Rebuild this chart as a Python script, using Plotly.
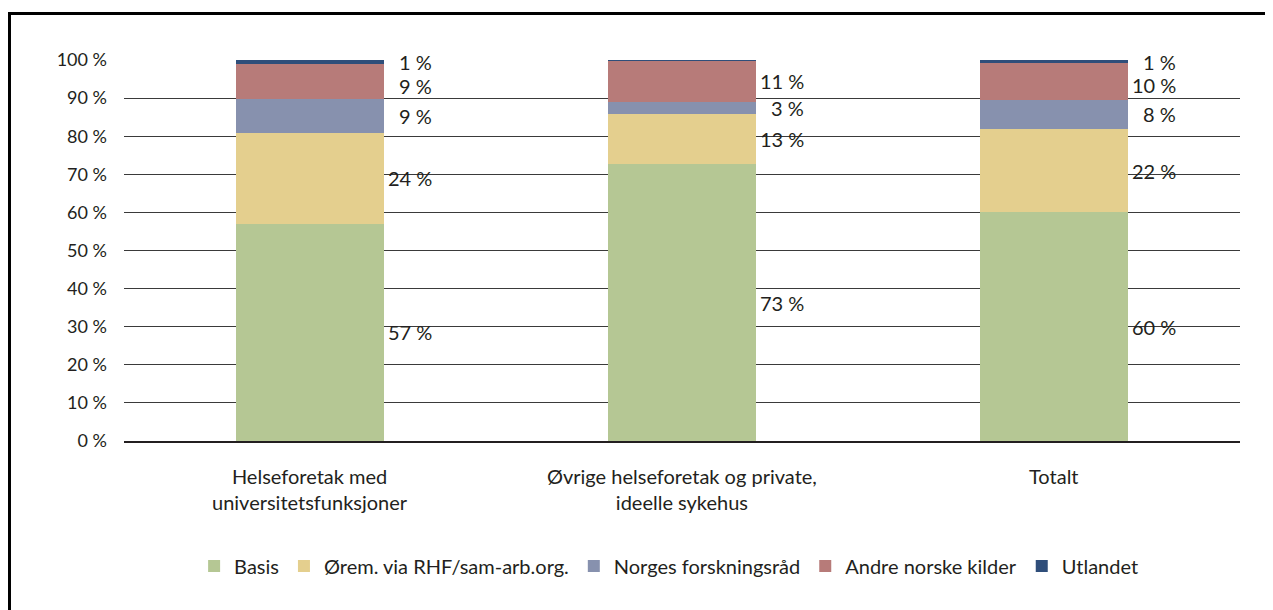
import plotly.graph_objects as go

categories = ["Helseforetak med<br>universitetsfunksjoner",
              "Øvrige helseforetak og private,<br>ideelle sykehus",
              "Totalt"]
series_names = ["Basis", "Ørem. via RHF/sam-arb.org.", "Norges forskningsråd",
                "Andre norske kilder", "Utlandet"]
basis = [57.0, 72.7, 60.0]
orem = [23.8, 13.0, 21.8]
nfr = [9.0, 3.2, 7.8]
andre = [9.2, 11.0, 9.6]
utlandet = [1.0, 0.1, 0.8]
y_tick_vals = [0, 10, 20, 30, 40, 50, 60, 70, 80, 90, 100]
y_tick_text = [f"{v} %" for v in y_tick_vals]

series = [basis, orem, nfr, andre, utlandet]
colors = ["#B5C794", "#E4CF8E", "#8791AE", "#B77B79", "#2F4E7A"]
FONT = "Lato"
TXT = "#231F20"
MIN_GAP = 6.2  # minimum vertical spacing between data labels, in axis units

fig = go.Figure()
for name, vals, col in zip(series_names, series, colors):
    fig.add_trace(go.Bar(x=categories, y=vals, name=name,
                         marker=dict(color=col, line=dict(width=0)), width=0.4))

annotations = []
# data labels to the right of each bar, at segment centers, pushed apart when crowded
for ci, cat in enumerate(categories):
    cum = 0.0
    labels = []
    for vals in series:
        v = vals[ci]
        mid = cum + v / 2
        cum += v
        if round(v) < 1:
            continue
        labels.append([mid, f"{round(v)} %"])
    labels.sort(key=lambda t: -t[0])
    prev = None
    for lab in labels:
        if prev is not None and prev - lab[0] < MIN_GAP:
            lab[0] = prev - MIN_GAP
        prev = lab[0]
        annotations.append(dict(x=cat, y=lab[0], xref="x", yref="y", text=lab[1],
                                showarrow=False, xanchor="right", yanchor="middle", xshift=124,
                                font=dict(family=FONT, size=20, color=TXT)))
# category labels (first line aligned for all categories)
for cat in categories:
    annotations.append(dict(x=cat, y=0, xref="x", yref="paper", text=cat,
                            showarrow=False, xanchor="center", yanchor="top",
                            yshift=-21, font=dict(family=FONT, size=20, color=TXT)))

fig.update_layout(
    barmode="stack",
    width=1273, height=610,
    margin=dict(l=116, r=41, t=52, b=177),
    paper_bgcolor="white", plot_bgcolor="white",
    font=dict(family=FONT, size=20, color=TXT),
    annotations=annotations,
    legend=dict(orientation="h", x=0.488, xanchor="center", y=-0.328, yanchor="middle",
                font=dict(family=FONT, size=20, color=TXT),
                traceorder="normal", itemclick=False),
    showlegend=True,
    shapes=[
        dict(type="line", xref="paper", yref="paper", x0=-0.1026, x1=1.1, y0=1.122, y1=1.122,
             line=dict(color="black", width=3)),
        dict(type="line", xref="paper", yref="paper", x0=-0.1026, x1=-0.1026, y0=1.126, y1=-0.5,
             line=dict(color="black", width=3)),
    ],
)
fig.update_yaxes(range=[0, 100], tickvals=y_tick_vals, ticktext=y_tick_text,
                 showgrid=True, gridcolor="#3A3A3A", gridwidth=1, zeroline=False,
                 showline=False, ticks="", ticklabelstandoff=16,
                 tickfont=dict(family=FONT, size=18, color=TXT))
fig.update_xaxes(showgrid=False, showline=True, linecolor=TXT, linewidth=1.5,
                 ticks="", showticklabels=False)

fig.write_html("out.html")
